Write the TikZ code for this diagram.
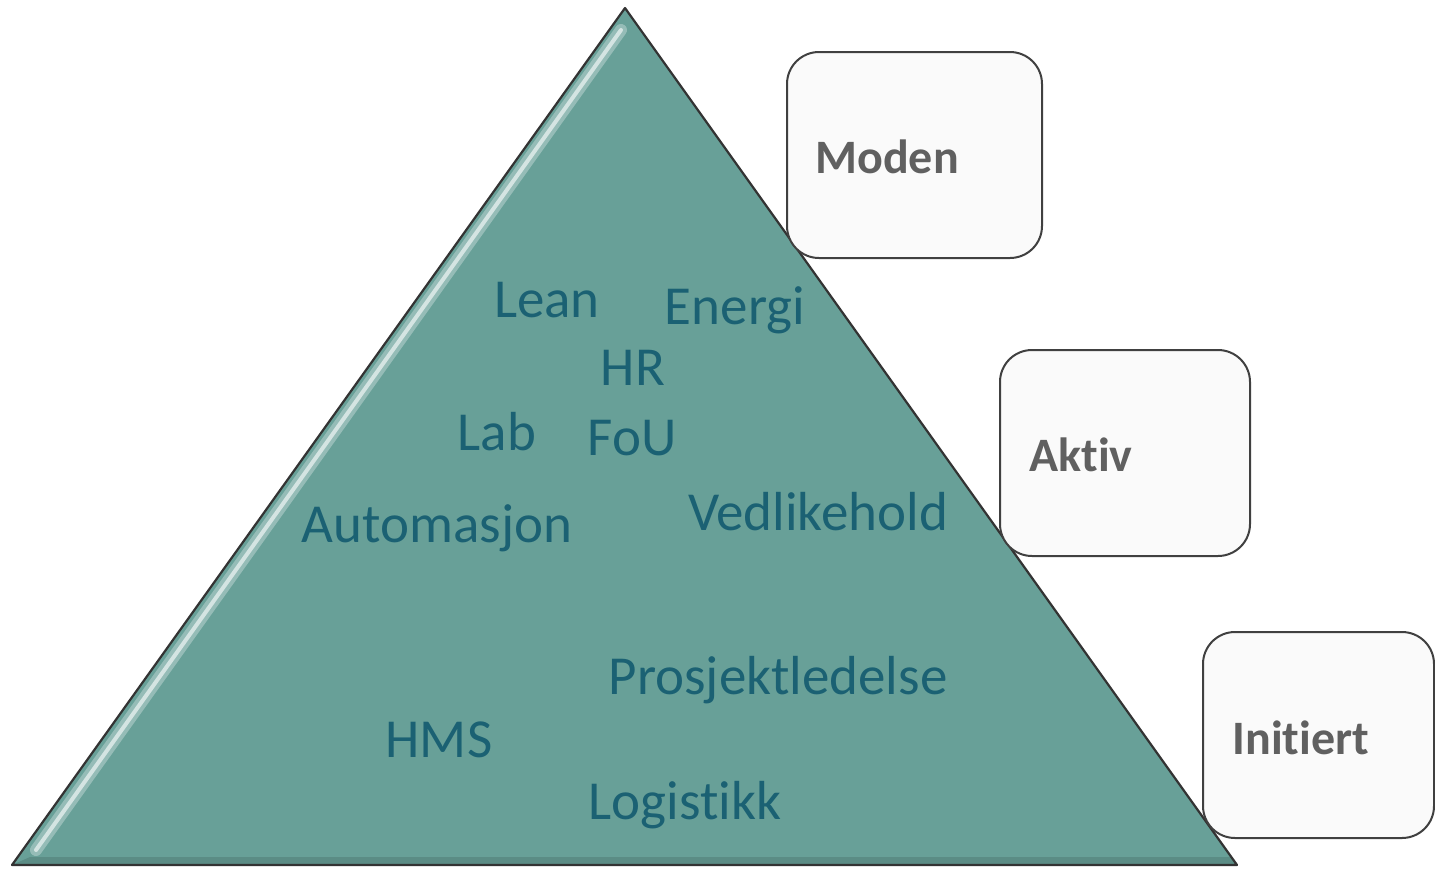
\documentclass[tikz,border=0pt]{standalone}
\usepackage{fontspec}
\setmainfont[Ligatures=NoCommon]{Carlito}
\definecolor{teal1}{HTML}{68A098}
\definecolor{itemc}{HTML}{1B6173}
\definecolor{labc}{HTML}{606060}
\definecolor{boxfill}{HTML}{FAFAFA}
\begin{document}
\begin{tikzpicture}[x=0.5pt,y=-0.5pt,
  item/.style={text=itemc,font=\fontsize{27.5}{30}\selectfont,inner sep=0pt},
  levelbox/.style={draw=black!75,line width=1pt,fill=boxfill,rounded corners=16pt},
  levellab/.style={text=labc,font=\bfseries\fontsize{24}{28}\selectfont,inner sep=0pt,anchor=west}]
\useasboundingbox (0,0) rectangle (1435,868);
% pyramid
\coordinate (apex) at (625,8);
\coordinate (bl) at (12,865);
\coordinate (br) at (1237,865);
\fill[teal1] (apex) -- (br) -- (bl) -- cycle;
% bevel highlight
\draw[white,opacity=0.3,line width=6pt,line cap=round] (621,30) -- (36,850);
\draw[white,opacity=0.6,line width=2pt,line cap=round] (621,30) -- (36,850);
\fill[black,opacity=0.12] (30,857) -- (1230,857) -- (1237,865) -- (12,865) -- cycle;
\draw[black!80,line width=1.1pt,line join=round] (apex) -- (br) -- (bl) -- cycle;
% items
\node[item] (lean) at (547,300) {Lean};
\node[item] (energi) at (735,310) {Energi};
\node[item] (hr) at (633,368) {HR};
\node[item] (lab) at (497,432) {Lab};
\node[item] (fou) at (632,438) {FoU};
\node[item] (auto) at (437,528) {Automasjon};
\node[item] (vedl) at (818,512) {Vedlikehold};
\node[item] (prosj) at (778,680) {Prosjektledelse};
\node[item] (hms) at (439,740) {HMS};
\node[item] (logi) at (685,805) {Logistikk};
% level boxes
\draw[levelbox] (787,52) rectangle (1042,258);
\draw[levelbox] (1000,350) rectangle (1250,556);
\draw[levelbox] (1203,632) rectangle (1434,838);
\node[levellab] (moden) at (815,157) {Moden};
\node[levellab] (aktiv) at (1029,455) {Aktiv};
\node[levellab] (init) at (1232,738) {Initiert};
\end{tikzpicture}
\end{document}
